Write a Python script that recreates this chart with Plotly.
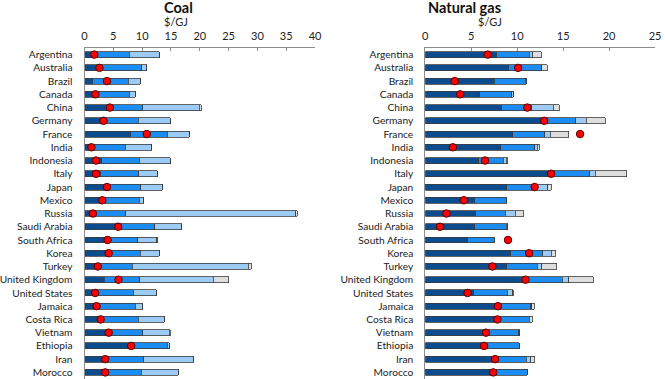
import plotly.graph_objects as go

countries = ["Argentina", "Australia", "Brazil", "Canada", "China", "Germany", "France", "India",
             "Indonesia", "Italy", "Japan", "Mexico", "Russia", "Saudi Arabia", "South Africa",
             "Korea", "Turkey", "United Kingdom", "United States", "Jamaica", "Costa Rica",
             "Vietnam", "Ethiopia", "Iran", "Morocco"]

# Coal ($/GJ): stacked components and marker
coal_c1 = [1.7, 2.6, 1.4, 1.9, 4.4, 3.3, 8.0, 1.2, 3.0, 2.7, 3.9, 3.1, 1.0, 5.85, 4.0,
           4.2, 2.3, 3.4, 1.85, 2.1, 2.8, 4.2, 8.1, 3.6, 3.6]
coal_c2 = [6.1, 7.3, 6.2, 5.9, 5.7, 6.0, 6.4, 5.9, 6.5, 6.7, 5.9, 6.4, 6.2, 6.35, 5.2,
           5.5, 6.0, 6.2, 6.6, 6.7, 6.5, 5.9, 6.3, 6.65, 6.25]
coal_c3 = [5.2, 0.9, 2.1, 1.0, 9.8, 5.6, 3.8, 4.6, 5.4, 3.2, 3.7, 0.75, 29.5, 4.65, 3.3,
           3.3, 20.1, 12.7, 4.0, 1.3, 4.5, 4.6, 0.3, 8.65, 6.45]
coal_c4 = [0, 0, 0, 0, 0.4, 0, 0, 0, 0, 0, 0, 0, 0.2, 0, 0.2,
           0, 0.5, 2.7, 0, 0, 0, 0.2, 0, 0.1, 0]
coal_dot = [1.7, 2.6, 3.9, 1.9, 4.4, 3.3, 10.8, 1.2, 2.0, 2.0, 3.9, 3.1, 1.45, 5.85, 4.0,
            4.2, 2.3, 5.9, 1.85, 2.1, 2.8, 4.2, 8.1, 3.6, 3.6]

# Natural gas ($/GJ)
gas_c1 = [7.8, 9.1, 7.5, 5.95, 8.3, 13.2, 9.5, 8.2, 5.8, 14.0, 8.85, 5.4, 5.5, 5.4, 4.6,
          9.3, 8.85, 10.8, 5.3, 7.9, 7.85, 6.6, 6.4, 7.6, 7.4]
gas_c2 = [3.5, 3.6, 3.4, 3.45, 3.3, 3.2, 3.5, 3.7, 2.7, 3.9, 3.35, 3.4, 3.2, 3.4, 2.9,
          3.5, 3.35, 4.1, 3.6, 3.6, 3.45, 3.55, 3.8, 3.4, 3.7]
gas_c3 = [0.4, 0, 0.1, 0.2, 2.3, 1.1, 0.6, 0.3, 0.3, 0.6, 1.15, 0.05, 1.1, 0.2, 0,
          0.9, 0.5, 0.7, 0.6, 0.1, 0, 0.15, 0, 0.5, 0]
gas_c4 = [0.9, 0.6, 0, 0, 0.7, 2.1, 2.0, 0.2, 0.2, 3.45, 0.35, 0, 0.9, 0, 0,
          0.5, 1.6, 2.7, 0.1, 0.25, 0.35, 0, 0, 0.4, 0]
gas_dot = [6.8, 10.1, 3.2, 3.8, 11.1, 12.95, 16.85, 3.0, 6.5, 13.7, 11.9, 4.2, 2.3, 1.6, 9.0,
           11.3, 7.3, 10.9, 4.6, 7.9, 7.85, 6.6, 6.4, 7.6, 7.4]

coal_ticks = [0, 5, 10, 15, 20, 25, 30, 35, 40]
gas_ticks = [0, 5, 10, 15, 20, 25]

colors = ["#0b4c8f", "#1a8cf2", "#9ccbf6", "#dedede"]
outline = dict(color="#3c3c3c", width=0.8)
FONT = "Lato"

W, H, T = 665, 379, 48
PH = H - T


def py(pix):
    # pixel y from top -> paper y (relative to plot area)
    return 1 + (T - pix) / PH


fig = go.Figure()
for comps, dots, xa, ya in [((coal_c1, coal_c2, coal_c3, coal_c4), coal_dot, "x", "y"),
                            ((gas_c1, gas_c2, gas_c3, gas_c4), gas_dot, "x2", "y2")]:
    for vals, col in zip(comps, colors):
        fig.add_trace(go.Bar(y=countries, x=vals, orientation="h", xaxis=xa, yaxis=ya,
                             marker=dict(color=col, line=outline), width=0.45,
                             showlegend=False, hoverinfo="x+y"))
    fig.add_trace(go.Scatter(y=countries, x=dots, mode="markers", xaxis=xa, yaxis=ya,
                             marker=dict(color="#ff0000", size=7.5,
                                         line=dict(color="#5a0000", width=1)),
                             showlegend=False))

xcommon = dict(side="top", showgrid=False, zeroline=False, showline=True, linecolor="#8c8c8c",
               linewidth=1, ticks="inside", ticklen=3, tickcolor="#8c8c8c", ticklabelstandoff=3,
               tickfont=dict(size=11, color="#222", family=FONT), automargin=False, fixedrange=True)
ycommon = dict(autorange=False, range=[24.5, -0.5], showgrid=False, zeroline=False, showline=True,
               linecolor="#8c8c8c", linewidth=1, ticks="", ticklabelstandoff=9,
               tickmode="array", tickvals=countries, ticktext=countries,
               tickfont=dict(size=10.2, color="#222", family=FONT), automargin=False,
               categoryorder="array", categoryarray=countries)

fig.update_layout(
    width=W, height=H, margin=dict(l=0, r=0, t=T, b=0),
    paper_bgcolor="white", plot_bgcolor="white", barmode="stack",
    xaxis=dict(domain=[84.5 / W, 315 / W], range=[0, 40], tickvals=coal_ticks, anchor="y", **xcommon),
    yaxis=dict(domain=[0, 1], anchor="x", **ycommon),
    xaxis2=dict(domain=[425.3 / W, 655 / W], range=[0, 25], tickvals=gas_ticks, anchor="y2", **xcommon),
    yaxis2=dict(domain=[0, 1], anchor="x2", **ycommon),
    font=dict(family=FONT),
    annotations=[
        dict(text="<b>Coal</b>", x=162 / W, y=py(8), xref="paper", yref="paper", yanchor="middle",
             showarrow=False, font=dict(size=14.5, color="#111", family=FONT)),
        dict(text="$/GJ", x=162 / W, y=py(22), xref="paper", yref="paper", yanchor="middle",
             showarrow=False, font=dict(size=11, color="#222", family=FONT)),
        dict(text="<b>Natural gas</b>", x=503 / W, y=py(8), xref="paper", yref="paper", yanchor="middle",
             showarrow=False, font=dict(size=14.5, color="#111", family=FONT)),
        dict(text="$/GJ", x=504 / W, y=py(22), xref="paper", yref="paper", yanchor="middle",
             showarrow=False, font=dict(size=11, color="#222", family=FONT)),
    ],
)

fig.write_html("out.html", config={"displayModeBar": False},
               post_script="document.body.style.margin='0';document.body.style.overflow='hidden';")
